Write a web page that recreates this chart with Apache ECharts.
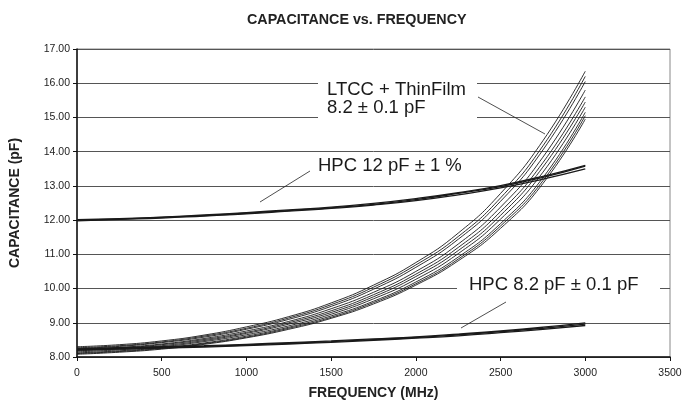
<!DOCTYPE html>
<html><head><meta charset="utf-8">
<script src="https://cdn.jsdelivr.net/npm/echarts@6/dist/echarts.min.js"></script>
<style>html,body{margin:0;padding:0;background:#fff}#c{width:682px;height:400px}</style>
</head><body><div id="c"></div>
<script>
const freqs = [0, 250, 500, 750, 1000, 1250, 1500, 1750, 2000, 2250, 2500, 2750, 3000];
const yTicks = [8, 9, 10, 11, 12, 13, 14, 15, 16, 17];
const xTicks = [0, 500, 1000, 1500, 2000, 2500, 3000, 3500];

// LTCC + ThinFilm 8.2 ± 0.1 pF (bundle)
const ltcc1  = [8.30, 8.36, 8.47, 8.64, 8.88, 9.18, 9.58, 10.10, 10.76, 11.62, 12.78, 14.32, 16.35];
const ltcc2  = [8.25, 8.31, 8.42, 8.58, 8.81, 9.10, 9.48, 9.98, 10.62, 11.44, 12.55, 14.05, 16.05];
const ltcc3  = [8.22, 8.28, 8.38, 8.54, 8.76, 9.04, 9.41, 9.89, 10.50, 11.30, 12.38, 13.84, 15.80];
const ltcc4  = [8.20, 8.26, 8.36, 8.51, 8.72, 9.00, 9.35, 9.82, 10.42, 11.20, 12.25, 13.68, 15.60];
const ltcc5  = [8.18, 8.24, 8.33, 8.48, 8.69, 8.96, 9.30, 9.76, 10.35, 11.11, 12.14, 13.55, 15.45];
const ltcc6  = [8.15, 8.21, 8.30, 8.45, 8.65, 8.91, 9.25, 9.70, 10.27, 11.02, 12.03, 13.40, 15.30];
const ltcc7  = [8.12, 8.18, 8.27, 8.41, 8.61, 8.87, 9.20, 9.63, 10.19, 10.92, 11.90, 13.24, 15.15];
const ltcc8  = [8.08, 8.14, 8.23, 8.37, 8.56, 8.81, 9.13, 9.55, 10.10, 10.81, 11.76, 13.07, 14.95];
const ltcc9  = [8.27, 8.33, 8.44, 8.61, 8.84, 9.14, 9.53, 10.04, 10.69, 11.52, 12.65, 14.17, 16.20];
const ltcc10 = [8.10, 8.16, 8.25, 8.39, 8.58, 8.84, 9.16, 9.59, 10.14, 10.86, 11.83, 13.15, 15.05];

// HPC 12 pF ± 1 %
const hpc12a = [12.00, 12.03, 12.08, 12.13, 12.20, 12.28, 12.36, 12.46, 12.60, 12.78, 12.98, 13.25, 13.58];
const hpc12b = [11.98, 12.02, 12.06, 12.12, 12.18, 12.26, 12.34, 12.44, 12.57, 12.74, 12.94, 13.20, 13.50];
const hpc12c = [12.01, 12.04, 12.09, 12.15, 12.22, 12.30, 12.38, 12.49, 12.63, 12.80, 13.01, 13.28, 13.60];

// HPC 8.2 pF ± 0.1 pF
const hpc82a = [8.22, 8.25, 8.28, 8.31, 8.35, 8.40, 8.45, 8.51, 8.57, 8.65, 8.74, 8.84, 8.96];
const hpc82b = [8.20, 8.23, 8.26, 8.29, 8.33, 8.38, 8.43, 8.49, 8.55, 8.62, 8.71, 8.81, 8.92];
const hpc82c = [8.24, 8.27, 8.30, 8.33, 8.37, 8.42, 8.47, 8.53, 8.59, 8.67, 8.76, 8.87, 9.00];

const ltccSets = [ltcc1, ltcc2, ltcc3, ltcc4, ltcc5, ltcc6, ltcc7, ltcc8, ltcc9, ltcc10];
const hpc12Sets = [hpc12a, hpc12b, hpc12c];
const hpc82Sets = [hpc82a, hpc82b, hpc82c];

function mk(vals, w, name) {
  return {
    type: 'line', name: name, smooth: true, showSymbol: false, silent: true,
    data: freqs.map((f, i) => [f, vals[i]]),
    lineStyle: { color: '#1a1a1a', width: w }, z: 3
  };
}
const series = [];
ltccSets.forEach(v => series.push(mk(v, 0.9, 'LTCC')));
hpc12Sets.forEach(v => series.push(mk(v, 1.3, 'HPC12')));
hpc82Sets.forEach(v => series.push(mk(v, 1.3, 'HPC82')));

const F = 'Liberation Sans, Arial, sans-serif';
const AF = '18.5px ' + F;
const chart = echarts.init(document.getElementById('c'), null, { renderer: 'canvas' });
chart.setOption({
  animation: false,
  backgroundColor: '#fff',
  title: {
    text: 'CAPACITANCE vs. FREQUENCY', left: 242, top: 8,
    textStyle: { fontFamily: F, fontWeight: 'bold', fontSize: 14.3, color: '#222' }
  },
  grid: { left: 77, right: 12, top: 49, bottom: 43, containLabel: false, outerBoundsMode: 'none',
          show: true, borderColor: '#888', borderWidth: 1 },
  xAxis: {
    type: 'value', min: xTicks[0], max: xTicks[xTicks.length - 1], interval: 500,
    name: 'FREQUENCY (MHz)', nameLocation: 'middle', nameGap: 29,
    nameTextStyle: { fontFamily: F, fontWeight: 'bold', fontSize: 14, color: '#222' },
    axisLine: { onZero: false, lineStyle: { color: '#111', width: 1.5 } },
    axisTick: { show: true, length: 4, lineStyle: { color: '#111' } },
    axisLabel: { fontFamily: F, fontSize: 10.5, color: '#222', margin: 11, formatter: v => String(v) },
    splitLine: { show: false }
  },
  yAxis: {
    type: 'value', min: yTicks[0], max: yTicks[yTicks.length - 1], interval: 1,
    name: 'CAPACITANCE (pF)', nameLocation: 'middle', nameGap: 55,
    nameTextStyle: { fontFamily: F, fontWeight: 'bold', fontSize: 14, color: '#222' },
    axisLine: { show: true, lineStyle: { color: '#111', width: 1.5 } },
    axisTick: { show: true, length: 4, lineStyle: { color: '#111' } },
    axisLabel: { fontFamily: F, fontSize: 10.5, color: '#222', margin: 7, formatter: v => v.toFixed(2) },
    splitLine: { show: true, lineStyle: { color: '#555', width: 1 } }
  },
  series: series,
  graphic: [
    { type: 'rect', shape: { x: 318, y: 73, width: 159, height: 50 }, style: { fill: '#fff' }, z: 10 },
    { type: 'text', x: 327, y: 90, style: { text: 'LTCC + ThinFilm', font: AF, fill: '#1a1a1a', verticalAlign: 'middle' }, z: 11 },
    { type: 'text', x: 327, y: 107.5, style: { text: '8.2 ± 0.1 pF', font: AF, fill: '#1a1a1a', verticalAlign: 'middle' }, z: 11 },
    { type: 'line', shape: { x1: 478, y1: 97, x2: 545, y2: 134 }, style: { stroke: '#222', lineWidth: 0.8 }, z: 11 },
    { type: 'text', x: 318, y: 166, style: { text: 'HPC 12 pF ± 1 %', font: AF, fill: '#1a1a1a', verticalAlign: 'middle' }, z: 11 },
    { type: 'line', shape: { x1: 310, y1: 171, x2: 260, y2: 202 }, style: { stroke: '#222', lineWidth: 0.8 }, z: 11 },
    { type: 'rect', shape: { x: 457, y: 275, width: 203, height: 22 }, style: { fill: '#fff' }, z: 10 },
    { type: 'text', x: 469, y: 285, style: { text: 'HPC 8.2 pF ± 0.1 pF', font: AF, fill: '#1a1a1a', verticalAlign: 'middle' }, z: 11 },
    { type: 'line', shape: { x1: 506, y1: 302, x2: 461, y2: 328 }, style: { stroke: '#222', lineWidth: 0.8 }, z: 11 }
  ]
});
</script></body></html>
